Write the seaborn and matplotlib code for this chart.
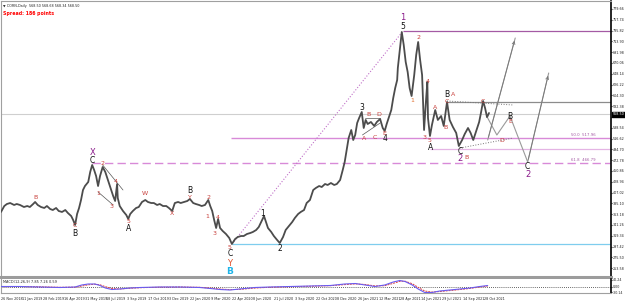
import numpy as np
import pandas as pd
import matplotlib
matplotlib.use('Agg')
import matplotlib.pyplot as plt
import seaborn as sns

# ---- style ----
sns.set_style('white')
plt.rcParams['font.family'] = ['DejaVu Sans']
BAR_GRAY = '#4c4c4c'
WAVE_BLACK = '#111111'
WAVE_RED = '#c8403c'
WAVE_PURPLE = '#8a1a8a'
FIB_PINK = '#d88ad8'
LEVEL_VIOLET = '#a45aa4'
PROJ_GRAY = '#9a9a9a'

# ---- price (bar index, close) ----
price_bar = [0, 5, 9, 14, 20, 24, 29, 35, 40, 44, 49, 52, 56, 61, 66, 70, 75, 79, 84, 88,
             93, 98, 102, 107, 110, 113, 116, 119, 122, 125, 128, 133, 136, 139, 142, 145, 148, 151, 155, 159,
             162, 165, 168, 171, 174, 177, 178, 181, 186, 191, 194, 197, 201, 206, 210, 215, 220, 224, 229, 233,
             238, 242, 247, 252, 256, 261, 265, 270, 274, 279, 284, 288, 293, 297, 302, 306, 311, 316, 319, 322,
             325, 328, 331, 334, 338, 343, 348, 352, 357, 361, 366, 370, 375, 380, 384, 389, 393, 398, 401, 404,
             407, 412, 416, 421, 425, 430, 434, 439, 444, 448, 453, 457, 462, 466, 471, 476, 480, 485, 489, 494,
             498, 503, 508, 512, 517, 521, 524, 527, 530, 534, 537, 540, 543, 546, 550, 553, 556, 559, 564, 569,
             573, 578, 582, 585, 588, 591, 595, 598, 601, 604, 605, 608, 611, 614, 617, 620, 623, 626, 630, 633,
             636, 639, 642, 645, 648, 650, 651, 654, 657, 662, 666, 671, 675, 680, 684, 689, 694, 698, 703, 707,
             712, 716, 720, 724, 729, 732, 735, 738, 741, 744]
price_close = [367.6, 379.7, 383.8, 385.8, 381.8, 383.8, 381.8, 377.7, 379.7, 377.7, 383.8, 387.9, 381.8, 377.7, 375.7, 379.7, 373.6, 371.6, 375.7, 369.6,
               367.6, 371.6, 365.5, 359.4, 351.3, 341.2, 363.5, 375.7, 391.9, 412.2, 420.3, 428.5, 448.8, 463.0, 452.8, 440.6, 420.3, 440.6, 458.9, 448.8,
               436.6, 424.4, 412.2, 400.0, 389.9, 424.4, 396.0, 379.7, 369.6, 361.5, 353.4, 363.5, 369.6, 375.7, 377.7, 387.9, 391.9, 387.9, 385.8, 385.8,
               381.8, 383.8, 379.7, 379.7, 375.7, 369.6, 385.8, 387.9, 385.8, 387.9, 389.9, 394.0, 385.8, 383.8, 381.8, 379.7, 381.8, 391.9, 379.7, 369.6,
               351.3, 335.1, 353.4, 335.1, 329.0, 322.9, 314.8, 302.6, 312.8, 316.8, 318.8, 318.8, 322.9, 324.9, 327.0, 331.0, 337.1, 351.3, 359.4, 347.3,
               335.1, 327.0, 318.8, 310.7, 304.6, 316.8, 331.0, 339.1, 347.3, 355.4, 363.5, 367.6, 371.6, 385.8, 391.9, 412.2, 416.3, 420.3, 418.3, 424.4,
               422.4, 426.4, 422.4, 424.4, 432.5, 452.8, 469.1, 493.4, 517.8, 534.0, 513.7, 523.9, 548.2, 558.4, 570.6, 538.1, 554.4, 546.2, 550.3, 542.2,
               550.3, 556.4, 538.1, 532.0, 546.2, 558.4, 574.6, 599.0, 619.3, 635.5, 659.9, 696.4, 733.0, 706.6, 672.1, 651.8, 619.3, 603.0, 645.7, 686.3,
               712.7, 676.1, 645.7, 534.0, 594.9, 631.5, 558.4, 521.8, 544.2, 574.6, 554.4, 562.4, 542.2, 590.9, 554.4, 540.1, 528.0, 501.5, 513.7, 525.9,
               538.1, 528.0, 513.7, 530.0, 550.3, 570.6, 592.9, 578.7, 560.0, 568.5]
last_price = 568.5

# ---- MACD panel ----
macd_bar = [0, 29, 59, 90, 113, 123, 133, 143, 151, 159, 169, 181, 197, 212, 242, 273, 303, 319, 334, 349,
            364, 387, 410, 441, 471, 502, 524, 540, 555, 570, 585, 598, 608, 616, 627, 636, 646, 657, 669, 692,
            715, 730, 742]
macd_main = [2.75, 2.75, 0.0, -2.75, 0.0, 11.0, 16.5, 16.5, 8.25, -5.5, -13.75, -11.0, -5.5, -2.75, 0.0, 0.0, -2.75, -8.25, -13.75, -16.5,
             -11.0, -2.75, 0.0, 2.75, 5.5, 8.25, 16.5, 19.25, 11.0, 2.75, 11.0, 27.5, 35.75, 30.25, 11.0, -11.0, -30.25, -30.25, -22.0, -13.75,
             -5.5, 2.75, 8.25]
macd_signal = [2.0, 2.5, 1.0, -1.5, -1.0, 5.0, 12.0, 15.5, 12.0, 2.0, -8.0, -11.0, -7.0, -4.0, -1.0, 0.0, -1.5, -6.0, -11.0, -14.5,
               -13.0, -6.0, -1.5, 1.5, 4.0, 7.0, 13.0, 17.0, 14.0, 6.0, 7.0, 20.0, 31.0, 32.0, 18.0, -2.0, -22.0, -28.0, -25.0, -17.0,
               -8.0, 0.0, 5.0]

# ---- dates on the time scale ----
date_labels = ["26 Nov 2018", "11 Jan 2019", "28 Feb 2019", "16 Apr 2019", "31 May 2019", "18 Jul 2019",
               "3 Sep 2019", "17 Oct 2019", "3 Dec 2019", "22 Jan 2020", "9 Mar 2020", "22 Apr 2020",
               "8 Jun 2020", "21 Jul 2020", "3 Sep 2020", "22 Oct 2020", "8 Dec 2020", "26 Jan 2021",
               "12 Mar 2021", "28 Apr 2021", "14 Jun 2021", "29 Jul 2021", "14 Sep 2021", "28 Oct 2021"]
date_bars = [32 * i for i in range(len(date_labels))]

# ---- drawn objects ----
# horizontal levels: (price, start bar, color, style, width)
levels = [
    (735.0, 613, LEVEL_VIOLET, '-', 0.9),
    (591.8, 680, '#8c8c8c', '-', 0.9),
    (566.5, 0, '#cfcfcf', '-', 0.8),
    (517.8, 350, FIB_PINK, '-', 1.0),
    (495.5, 654, '#e4b4e4', '-', 0.9),
    (466.8, 139, FIB_PINK, (0, (6, 3)), 1.0),
    (302.6, 352, '#7fcdee', '-', 0.9),
]
fib_texts = [("50.0  517.96", 517.8), ("61.8  466.79", 466.8)]

diag_bar = [352, 613]
diag_price = [302.6, 735.0]

proj_a_bar = [742, 784]
proj_a_price = [513.7, 720.8]
proj_b_bar = [742, 756, 776, 803, 835]
proj_b_price = [558.4, 523.9, 562.4, 469.1, 649.7]

tri_top_bar = [680, 781]
tri_top_price = [592.9, 584.8]
tri_bot_bar = [700, 781]
tri_bot_price = [497.5, 517.8]

channel_lines = [([155, 186], [463.0, 412.2]), ([148, 171], [408.2, 381.8]),
                 ([551, 578], [523.9, 548.2]), ([555, 578], [558.4, 558.4])]

# wave labels: (text, bar, price, color, size, weight)
wave_labels = [
    ("B", 113, 322.9, WAVE_BLACK, 5.5, 'normal'), ("C", 139, 471.1, WAVE_BLACK, 5.5, 'normal'),
    ("A", 194, 333.1, WAVE_BLACK, 5.5, 'normal'), ("B", 288, 410.2, WAVE_BLACK, 5.5, 'normal'),
    ("C", 349, 282.3, WAVE_BLACK, 5.5, 'normal'), ("1", 399, 365.5, WAVE_BLACK, 5.5, 'normal'),
    ("2", 425, 292.5, WAVE_BLACK, 5.5, 'normal'), ("3", 550, 580.7, WAVE_BLACK, 5.5, 'normal'),
    ("4", 585, 515.8, WAVE_BLACK, 5.5, 'normal'), ("5", 613, 744.1, WAVE_BLACK, 5.5, 'normal'),
    ("A", 655, 499.5, WAVE_BLACK, 5.5, 'normal'), ("B", 680, 605.1, WAVE_BLACK, 5.5, 'normal'),
    ("C", 700, 490.4, WAVE_BLACK, 5.5, 'normal'), ("B", 776, 562.4, WAVE_BLACK, 5.5, 'normal'),
    ("C", 803, 459.9, WAVE_BLACK, 5.5, 'normal'),
    ("X", 139, 489.3, WAVE_PURPLE, 6, 'normal'), ("1", 613, 761.4, WAVE_PURPLE, 6, 'normal'),
    ("2", 700, 475.2, WAVE_PURPLE, 6, 'normal'), ("2", 803, 443.7, WAVE_PURPLE, 6, 'normal'),
    ("Y", 349, 264.0, '#e0502a', 6, 'normal'), ("B", 349, 246.3, '#1fb4e8', 6.5, 'bold'),
    ("B", 52, 398.0, WAVE_RED, 4.5, 'normal'), ("C", 113, 339.2, WAVE_RED, 4.5, 'normal'),
    ("2", 155, 465.0, WAVE_RED, 4.5, 'normal'), ("1", 148, 406.1, WAVE_RED, 4.5, 'normal'),
    ("3", 169, 379.7, WAVE_RED, 4.5, 'normal'), ("4", 175, 428.5, WAVE_RED, 4.5, 'normal'),
    ("5", 194, 347.3, WAVE_RED, 4.5, 'normal'), ("W", 220, 406.1, WAVE_RED, 4.5, 'normal'),
    ("X", 261, 363.5, WAVE_RED, 4.5, 'normal'), ("Y", 288, 398.0, WAVE_RED, 4.5, 'normal'),
    ("2", 316, 396.0, WAVE_RED, 4.5, 'normal'), ("1", 314, 359.4, WAVE_RED, 4.5, 'normal'),
    ("4", 331, 357.4, WAVE_RED, 4.5, 'normal'), ("3", 326, 322.9, WAVE_RED, 4.5, 'normal'),
    ("5", 349, 296.5, WAVE_RED, 4.5, 'normal'), ("A", 553, 515.8, WAVE_RED, 4.5, 'normal'),
    ("B", 561, 566.5, WAVE_RED, 4.5, 'normal'), ("C", 570, 519.8, WAVE_RED, 4.5, 'normal'),
    ("D", 576, 564.5, WAVE_RED, 4.5, 'normal'), ("E", 585, 527.9, WAVE_RED, 4.5, 'normal'),
    ("1", 627, 592.9, '#e07030', 4.5, 'normal'), ("2", 636, 722.8, WAVE_RED, 4.5, 'normal'),
    ("3", 645, 519.8, WAVE_RED, 4.5, 'normal'), ("4", 651, 631.5, WAVE_RED, 4.5, 'normal'),
    ("5", 654, 511.7, WAVE_RED, 4.5, 'normal'), ("A", 662, 578.7, WAVE_RED, 4.5, 'normal'),
    ("B", 677, 538.1, WAVE_RED, 4.5, 'normal'), ("A", 689, 605.1, WAVE_RED, 4.5, 'normal'),
    ("C", 680, 590.9, WAVE_RED, 4.5, 'normal'), ("B", 709, 477.2, WAVE_RED, 4.5, 'normal'),
    ("C", 735, 590.9, WAVE_RED, 4.5, 'normal'), ("D", 764, 513.7, WAVE_RED, 4.5, 'normal'),
    ("E", 776, 550.3, WAVE_RED, 4.5, 'normal'),
]

# price scale ticks (terminal style, fixed step)
ytick_vals = 779.66 - 21.92 * np.arange(25)

# ==============================================================================
fig = plt.figure(figsize=(6.25, 3.01), dpi=100)
ax = fig.add_axes([1 / 625, 24 / 301, 610 / 625, 276 / 301])
axm = fig.add_axes([1 / 625, 8 / 301, 610 / 625, 14 / 301])

XMAX = 930
df_price = pd.DataFrame({'bar': price_bar, 'close': price_close})
sns.lineplot(data=df_price, x='bar', y='close', ax=ax, color=BAR_GRAY, linewidth=1.3, zorder=3)

for lvl, start, col, ls, lw in levels:
    ax.hlines(lvl, start, XMAX, colors=col, linestyles=ls, linewidth=lw, zorder=2)
for txt, lvl in fib_texts:
    ax.annotate(txt, xy=(0.975, lvl), xycoords=('axes fraction', 'data'), xytext=(0, 0.8),
                textcoords='offset points', ha='right', va='bottom', fontsize=2.8, color=LEVEL_VIOLET)

sns.lineplot(x=diag_bar, y=diag_price, ax=ax, color='#c070c8', linewidth=0.8, linestyle=':', zorder=2)
for bars, prices in channel_lines:
    sns.lineplot(x=bars, y=prices, ax=ax, color='#555555', linewidth=0.5, zorder=2)
sns.lineplot(x=tri_top_bar, y=tri_top_price, ax=ax, color='#777777', linewidth=0.7, linestyle=':', zorder=2)
sns.lineplot(x=tri_bot_bar, y=tri_bot_price, ax=ax, color='#777777', linewidth=0.7, linestyle=':', zorder=2)

for bars, prices in [(proj_a_bar, proj_a_price), (proj_b_bar, proj_b_price)]:
    sns.lineplot(x=bars, y=prices, ax=ax, color=PROJ_GRAY, linewidth=0.8, sort=False, zorder=2)
    ax.annotate('', xy=(bars[-1], prices[-1]), xytext=(bars[-2], prices[-2]),
                arrowprops=dict(arrowstyle='->', color='#777777', lw=0.6, mutation_scale=5))

for txt, b, p, col, size, weight in wave_labels:
    ax.text(b, p, txt, color=col, fontsize=size, fontweight=weight, ha='center', va='center', zorder=5)

ax.set_xlim(0, XMAX)
ax.set_ylim(235.6, 795.9)
ax.yaxis.tick_right()
ax.set_yticks(ytick_vals)
ax.set_yticklabels([f'{v:.2f}' for v in ytick_vals])
ax.tick_params(axis='y', labelsize=2.4, length=1.0, pad=0.5, colors='#222222')
ax.set_xticks([])
ax.set_xlabel('')
ax.set_ylabel('')
for side in ['top', 'left']:
    ax.spines[side].set_color('#a0a0a0')
    ax.spines[side].set_linewidth(0.8)
ax.spines['bottom'].set_color('#9c9c9c')
ax.spines['bottom'].set_linewidth(2.2)
ax.spines['right'].set_color('black')
ax.spines['right'].set_linewidth(1.2)

ax.annotate(f'{last_price:.2f}', xy=(1.0, 566.5), xycoords=('axes fraction', 'data'), xytext=(0.9, 0),
            textcoords='offset points', ha='left', va='center', fontsize=2.4, color='white',
            bbox=dict(boxstyle='square,pad=0.15', fc='black', ec='black'), annotation_clip=False)

ax.text(0.004, 0.988, '\u25bc CORN,Daily  568.50 568.68 568.34 568.50', transform=ax.transAxes,
        fontsize=2.4, color='#222222', ha='left', va='top')
ax.text(0.004, 0.962, 'Spread: 186 points', transform=ax.transAxes,
        fontsize=3.4, color='#ff0000', fontweight='bold', ha='left', va='top')

# ---- MACD ----
df_macd = pd.DataFrame({'bar': macd_bar, 'macd': macd_main, 'signal': macd_signal})
axm.axhline(0, color='#333333', linewidth=0.6, linestyle=(0, (1, 1.5)), zorder=1)
sns.lineplot(data=df_macd, x='bar', y='signal', ax=axm, color='#e0403c', linewidth=0.7,
             linestyle=(0, (2, 1)), zorder=2)
sns.lineplot(data=df_macd, x='bar', y='macd', ax=axm, color='#6a5cf0', linewidth=0.8, zorder=3)
axm.set_xlim(0, XMAX)
axm.set_ylim(-33, 44)
axm.yaxis.tick_right()
axm.set_yticks([40.24, 0.0, -30.14])
axm.set_yticklabels(['40.24', '0.00', '-30.14'])
axm.tick_params(axis='y', labelsize=2.3, length=1.0, pad=0.5, colors='#222222')
axm.set_xticks(date_bars)
axm.set_xticklabels(date_labels, ha='left')
axm.tick_params(axis='x', labelsize=2.4, length=1.5, pad=1.2, colors='#222222')
axm.set_xlabel('')
axm.set_ylabel('')
axm.spines['top'].set_visible(False)
axm.spines['left'].set_color('#a0a0a0')
axm.spines['left'].set_linewidth(0.8)
axm.spines['bottom'].set_color('#a0a0a0')
axm.spines['bottom'].set_linewidth(0.8)
axm.spines['right'].set_color('black')
axm.spines['right'].set_linewidth(1.2)
axm.text(0.004, 0.93, 'MACD(12,26,9) 7.85 7.26 0.59', transform=axm.transAxes,
         fontsize=2.5, color='#222222', ha='left', va='top')

fig.savefig('out.png', dpi=100)
